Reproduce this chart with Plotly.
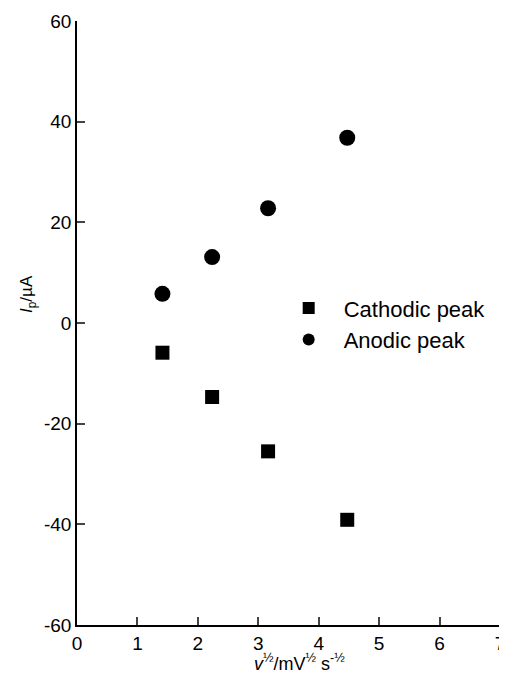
import plotly.graph_objects as go

x_vals = [1.414, 2.236, 3.162, 4.472]
cathodic = [-5.9, -14.7, -25.5, -39.1]
anodic = [5.8, 13.1, 22.8, 36.8]
x_ticks = [0, 1, 2, 3, 4, 5, 6, 7]
y_ticks = [-60, -40, -20, 0, 20, 40, 60]
y_tick_text = ["-60", "-40", "-20", "0", "20", "40", "60"]

font = dict(family="Liberation Sans, Arial, sans-serif", size=16, color="black")

fig = go.Figure()
fig.add_trace(go.Scatter(x=x_vals, y=cathodic, mode="markers", name="Cathodic peak",
                         legendgroup="c",
                         marker=dict(symbol="square", size=14, color="black")))
fig.add_trace(go.Scatter(x=x_vals, y=anodic, mode="markers", name="Anodic peak",
                         legendgroup="a",
                         marker=dict(symbol="circle", size=16, color="black")))

# page body has an 8px margin: shift figure accordingly
PH = 604.0
fig.update_layout(
    width=499, height=670,
    margin=dict(l=69, r=7, t=13, b=53),
    paper_bgcolor="white", plot_bgcolor="white",
    font=font,
    showlegend=True,
    legend=dict(x=0.465, y=0.498, xanchor="left", yanchor="middle",
                bgcolor="rgba(0,0,0,0)", font=dict(size=22), itemsizing="constant",
                traceorder="grouped", tracegroupgap=0, itemwidth=60),
    xaxis=dict(range=[0, 7], tickvals=x_ticks, ticks="inside", ticklen=8, tickwidth=1.5,
               showline=True, linewidth=1.5, linecolor="black", showgrid=False, zeroline=False,
               automargin=False, tickfont=dict(size=19), ticklabeloverflow="allow"),
    yaxis=dict(range=[-60, 60], tickvals=y_ticks, ticktext=y_tick_text,
               ticks="inside", ticklen=8, tickwidth=1.5,
               showline=True, linewidth=1.5, linecolor="black", showgrid=False, zeroline=False,
               automargin=False, tickfont=dict(size=19), ticklabeloverflow="allow"),
    annotations=[
        dict(text="<i>v</i><sup>½</sup>/mV<sup>½</sup> s<sup>-½</sup>", xref="paper", yref="paper",
             x=(299 - 77) / 423, y=-(662 - 625) / PH, xanchor="center", yanchor="middle",
             showarrow=False, font=dict(size=18)),
        dict(text="<i>I</i><sub>p</sub>/µA", xref="paper", yref="paper",
             x=-(77 - 28) / 423, y=(625 - 294) / PH, xanchor="center", yanchor="middle",
             textangle=-90, showarrow=False, font=dict(size=17)),
    ],
)

fig.write_html("out.html")
